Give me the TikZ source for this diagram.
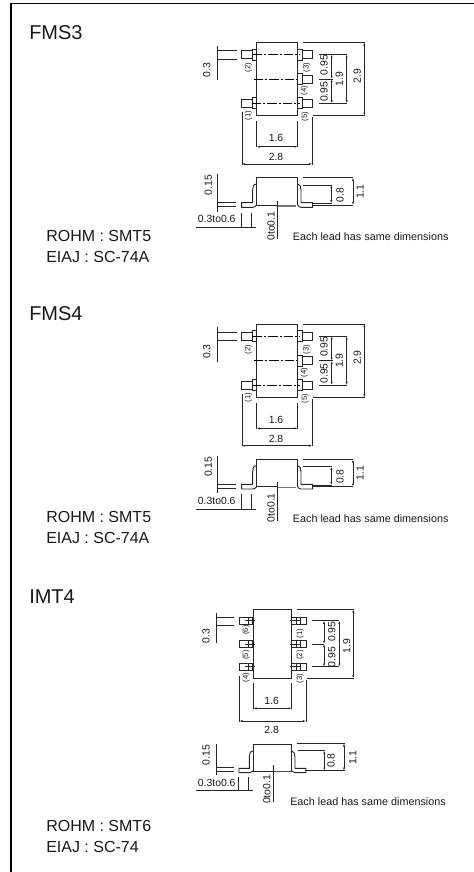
\documentclass[tikz,border=0pt]{standalone}
\usepackage{fontspec}
\setmainfont{Liberation Sans}
\usetikzlibrary{arrows.meta}
\tikzset{
  px/.style={x=0.75pt,y=-0.75pt},
  thin line/.style={line width=0.55pt,draw=black!85},
  outline/.style={line width=0.7pt,draw=black!85},
  dimline/.style={line width=0.55pt,draw=black!85,{Latex[length=2.4pt,width=1.6pt]}-{Latex[length=2.4pt,width=1.6pt]}},
  centerline/.style={line width=0.55pt,draw=black,dash pattern=on 7pt off 1.5pt on 1.5pt off 1.5pt},
  lab/.style={inner sep=0pt,font=\fontsize{7.8pt}{9pt}\selectfont,text=black!90},
  vlab/.style={lab,rotate=90},
  pin/.style={vlab,font=\fontsize{5.8pt}{7pt}\selectfont},
  note/.style={inner sep=0pt,anchor=west,font=\fontsize{8.1pt}{10pt}\selectfont,text=black!90},
  info/.style={inner sep=0pt,anchor=west,font=\fontsize{12pt}{14pt}\selectfont,text=black!90},
  title/.style={inner sep=0pt,anchor=west,font=\fontsize{15pt}{17pt}\selectfont,text=black!90},
}
% five-lead package, top and side views
\newcommand{\fiveleadpkg}{%
  \draw[outline] (256.7,42.3) rectangle (297.7,115.7);
  % left leads
  \foreach \yy in {54.5,103.3}{
    \draw[outline] (252.7,\yy-4) -- (241.3,\yy-4) -- (241.3,\yy+4) -- (252.7,\yy+4);
    \draw[outline] (256.7,\yy-5.5) -- (252.7,\yy-5.5) -- (252.7,\yy+5.5) -- (256.7,\yy+5.5);
  }
  % right leads
  \foreach \yy in {54.5,79,103.3}{
    \draw[outline] (302.3,\yy-4) -- (312.8,\yy-4) -- (312.8,\yy+4) -- (302.3,\yy+4);
    \draw[outline] (297.7,\yy-5.5) -- (302.3,\yy-5.5) -- (302.3,\yy+5.5) -- (297.7,\yy+5.5);
  }
  \draw[centerline] (253,54.5) -- (300,54.5);
  \draw[centerline] (254,79) -- (300,79);
  \draw[centerline] (252,103.3) -- (300,103.3);
  % 0.3
  \draw[thin line] (217.3,45.7) -- (217.3,80);
  \draw[thin line] (217.3,50.7) -- (236.7,50.7) (217.3,59) -- (236.7,59);
  \node[vlab] (l03) at (206.7,70) {0.3};
  % pin labels
  \node[pin] (p2) at (248.3,67.7) {(2)};
  \node[pin] (p3) at (306.7,67.7) {(3)};
  \node[pin] (p4) at (304.3,90.7) {(4)};
  \node[pin] (p1) at (248.3,115.7) {(1)};
  \node[pin] (p5) at (305,116.7) {(5)};
  % right dimensions
  \draw[thin line] (319.3,54.5) -- (347.3,54.5) (319.3,79) -- (332.7,79) (319.3,103.3) -- (347.3,103.3);
  \draw[dimline] (331.7,54.5) -- (331.7,79);
  \draw[dimline] (331.7,79) -- (331.7,103.3);
  \draw[dimline] (346.7,54.5) -- (346.7,103.3);
  \draw[thin line] (302.7,42.3) -- (365,42.3) (312.7,115.7) -- (365,115.7);
  \draw[dimline] (364.3,42.3) -- (364.3,115.7);
  \node[vlab] (l095a) at (324,65) {0.95};
  \node[vlab] (l095b) at (324,91.7) {0.95};
  \node[vlab] (l19) at (339.3,79) {1.9};
  \node[vlab] (l29) at (357.3,76) {2.9};
  % bottom dimensions
  \draw[thin line] (256.7,121) -- (256.7,147) (297.7,121) -- (297.7,147);
  \draw[dimline] (256.7,146.7) -- (297.7,146.7);
  \node[lab] (l16) at (276,138.3) {1.6};
  \draw[thin line] (242,112) -- (242,164.5) (312.3,117) -- (312.3,164.5);
  \draw[dimline] (242,164) -- (312.3,164);
  \node[lab] (l28) at (276,157.3) {2.8};
  % side view
  \draw[outline] (256.7,205) -- (256.7,177.7) -- (297.7,177.7) -- (297.7,205);
  \draw[outline] (256.7,205) -- (277.7,205);
  \draw[line width=0.9pt,draw=black!55] (277.7,206) -- (296,206);
  \draw[outline] (256.7,184) .. controls (253,184) and (252.7,187) .. (252.7,190) -- (252.7,202.7) -- (241.7,202.7) -- (241.7,207.3) -- (252.7,207.3) .. controls (254,207.3) and (255.5,206.5) .. (256.7,205);
  \draw[outline] (297.7,184) .. controls (300,184) and (301,187) .. (301,190) -- (301,202.7) -- (312.7,202.7) -- (312.7,207.3) -- (301,207.3) .. controls (299.5,207.3) and (298.5,206.5) .. (297.7,205);
  % 0.15
  \draw[thin line] (217.7,174) -- (217.7,211.7);
  \draw[thin line] (217.7,202.7) -- (236,202.7) (217.7,206.7) -- (236,206.7);
  \node[vlab] (l015) at (208.3,185) {0.15};
  % 0.3to0.6
  \node[lab] (l036) at (216.7,219.3) {0.3to0.6};
  \draw[thin line] (196,227.3) -- (256,227.3);
  \draw[thin line] (241.3,212.7) -- (241.3,227.3) (251.7,212.7) -- (251.7,227.3);
  % 0to0.1
  \draw[thin line] (277.7,200.7) -- (277.7,239.3);
  \node[vlab] (l001) at (271,226) {0to0.1};
  % heights
  \draw[thin line] (303.3,185) -- (332.3,185) (312.7,203.3) -- (332.3,203.3);
  \draw[dimline] (331.3,185) -- (331.3,203.3);
  \node[vlab] (l08) at (340,195) {0.8};
  \draw[thin line] (302.7,177.7) -- (353.3,177.7) (312.7,205) -- (353.3,205);
  \draw[dimline] (353,177.7) -- (353,205);
  \node[vlab] (l11) at (360,191.7) {1.1};
  \node[note] (each) at (292.7,236.7) {Each lead has same dimensions};
}
\begin{document}
\begin{tikzpicture}[px]
\useasboundingbox (0,0) rectangle (474,872);
\fill[white] (0,0) rectangle (474,872);
\draw[line width=1.1pt,black] (11,872) -- (11,3.5) -- (474,3.5);
% headings
\node[title] (t1) at (29,32.5) {FMS3};
\node[title] (t2) at (29,314) {FMS4};
\node[title] (t3) at (29,597) {IMT4};
\node[info] (r1) at (46,236) {ROHM : SMT5};
\node[info] (e1) at (46,257) {EIAJ : SC-74A};
\node[info] (r2) at (46,517) {ROHM : SMT5};
\node[info] (e2) at (46,538) {EIAJ : SC-74A};
\node[info] (r3) at (46,825.7) {ROHM : SMT6};
\node[info] (e3) at (46,846.7) {EIAJ : SC-74};
% packages
\begin{scope}[name prefix=a-]
\fiveleadpkg
\end{scope}
\begin{scope}[name prefix=b-,shift={(0,281.7)}]
\fiveleadpkg
\end{scope}
% IMT4 top view
\begin{scope}[name prefix=c-]
\draw[outline] (253.3,609.3) rectangle (291.7,678.3);
\foreach \yy in {620.7,644,666.7}{
  \draw[outline] (253.3,\yy-3.4) -- (239.3,\yy-3.4) -- (239.3,\yy+3.4) -- (253.3,\yy+3.4);
  \draw[outline] (248.3,\yy-3.4) -- (248.3,\yy+3.4) (252,\yy-3.4) -- (252,\yy+3.4) (245,\yy) -- (255,\yy);
  \draw[outline] (291.7,\yy-3.4) -- (306,\yy-3.4) -- (306,\yy+3.4) -- (291.7,\yy+3.4);
  \draw[outline] (296,\yy-3.4) -- (296,\yy+3.4) (300,\yy-3.4) -- (300,\yy+3.4) (290,\yy) -- (300,\yy);
}
\draw[thin line] (216.7,612.7) -- (216.7,643.3);
\draw[thin line] (216.7,617.3) -- (234,617.3) (216.7,625) -- (234,625);
\node[vlab] (l03) at (206,636) {0.3};
\node[pin] (p6) at (246,630) {(6)};
\node[pin] (p5) at (246,655) {(5)};
\node[pin] (p4) at (246,677.7) {(4)};
\node[pin] (p1) at (300,633.3) {(1)};
\node[pin] (p2) at (300,655) {(2)};
\node[pin] (p3) at (300,678.3) {(3)};
\draw[thin line] (312.3,620.7) -- (339.3,620.7) (312.3,644) -- (324,644) (312.3,666.7) -- (339.3,666.7);
\draw[dimline] (324,620.7) -- (324,644);
\draw[dimline] (324,644) -- (324,666.7);
\draw[dimline] (339.3,620.7) -- (339.3,666.7);
\node[vlab] (l095a) at (331.7,631.7) {0.95};
\node[vlab] (l095b) at (331.7,657.3) {0.95};
\node[vlab] (l19) at (346.7,646) {1.9};
\draw[thin line] (296.7,609.3) -- (354,609.3) (306.7,678.3) -- (354,678.3);
\draw[dimline] (353.3,609.3) -- (353.3,678.3);
\draw[thin line] (253.3,683.3) -- (253.3,708.8) (291.7,683.3) -- (291.7,708.8);
\draw[dimline] (253.3,708.3) -- (291.7,708.3);
\node[lab] (l16) at (271.7,700.7) {1.6};
\draw[thin line] (239.3,676) -- (239.3,721.5) (306,680) -- (306,721.5);
\draw[dimline] (239.3,721) -- (306,721);
\node[lab] (l28) at (271.7,730) {2.8};
% IMT4 side view
\draw[outline] (253.3,771) -- (253.3,744.3) -- (291.7,744.3) -- (291.7,771) -- cycle;
\draw[line width=0.9pt,draw=black!70] (273.3,771.7) -- (291.7,771.7);
\draw[outline] (253.3,751) .. controls (250,751) and (249.3,754) .. (249.3,757) -- (249.3,768.3) -- (239,768.3) -- (239,772.7) -- (249.3,772.7) .. controls (251,772.7) and (252,772) .. (253.3,771);
\draw[outline] (291.7,751) .. controls (294,751) and (295,754) .. (295,757) -- (295,768.3) -- (306,768.3) -- (306,772.7) -- (295,772.7) .. controls (293.5,772.7) and (292.5,772) .. (291.7,771);
\draw[thin line] (216.7,744) -- (216.7,775);
\draw[thin line] (216.7,767.7) -- (234.3,767.7) (216.7,771.7) -- (234.3,771.7);
\node[vlab] (l015) at (206,755) {0.15};
\node[lab] (l036) at (216.7,782.7) {0.3to0.6};
\draw[thin line] (196,790) -- (252.7,790);
\draw[thin line] (238.3,776.7) -- (238.3,790) (248.3,776.7) -- (248.3,790);
\draw[thin line] (273.3,765) -- (273.3,802.3);
\node[vlab] (l001) at (266.7,789.5) {0to0.1};
\draw[thin line] (297.7,750.7) -- (325,750.7) (305,770.7) -- (345,770.7) (296.7,743.3) -- (345,743.3);
\draw[dimline] (324.3,750.7) -- (324.3,770.7);
\draw[dimline] (344,743.3) -- (344,770.7);
\node[vlab] (l08) at (331,760.7) {0.8};
\node[vlab] (l11) at (352.7,757.7) {1.1};
\node[note] (each) at (290,801.7) {Each lead has same dimensions};
\end{scope}
\end{tikzpicture}
\end{document}
